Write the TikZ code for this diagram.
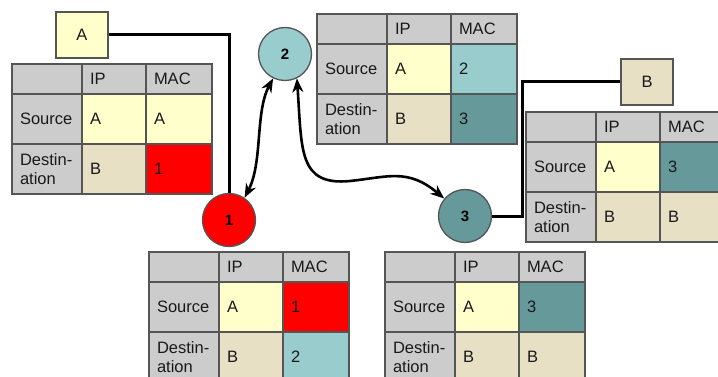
\documentclass[tikz,border=0pt]{standalone}
\usepackage{fontspec}
\setmainfont{Liberation Sans}
\usetikzlibrary{arrows.meta,positioning}

\definecolor{ipyellow}{HTML}{FFFFCC}
\definecolor{iptan}{HTML}{E8E0C4}
\definecolor{hdgray}{HTML}{CCCCCC}
\definecolor{macred}{HTML}{FF0000}
\definecolor{maclight}{HTML}{99CCCC}
\definecolor{macdark}{HTML}{669999}
\definecolor{tabline}{HTML}{555555}

% one ARP table: name, corner, src MAC, its fill, dst MAC, its fill
\newcommand{\arptable}[6]{%
  \node[cell,fill=hdgray,text width=54pt,minimum height=30pt] (#1c) at (#2) {};
  \node[cell,fill=hdgray,text width=48pt,minimum height=30pt,right=0pt of #1c] (#1ip) {IP};
  \node[cell,fill=hdgray,text width=50pt,minimum height=30pt,right=0pt of #1ip] (#1mac) {MAC};
  \node[cell,fill=hdgray,text width=54pt,minimum height=50pt,below=0pt of #1c] (#1src) {Source};
  \node[cell,fill=ipyellow,text width=48pt,minimum height=50pt,right=0pt of #1src] (#1sip) {A};
  \node[cell,fill=#4,text width=50pt,minimum height=50pt,right=0pt of #1sip] (#1smac) {#3};
  \node[cell,fill=hdgray,text width=54pt,minimum height=50pt,below=0pt of #1src] (#1dst) {Destin-\\ation};
  \node[cell,fill=iptan,text width=48pt,minimum height=50pt,right=0pt of #1dst] (#1dip) {B};
  \node[cell,fill=#6,text width=50pt,minimum height=50pt,right=0pt of #1dip] (#1dmac) {#5};
}

\begin{document}
\begin{tikzpicture}[x=1pt,y=-1pt,
  cell/.style={draw=tabline,line width=1.6pt,anchor=north west,outer sep=0pt,
    inner xsep=8pt,inner ysep=0pt,align=left,text=black!90,
    font=\fontsize{16.5}{19}\selectfont},
  host/.style={draw=tabline,line width=1.4pt,minimum width=52pt,minimum height=46pt,
    text=black!90,font=\fontsize{16.5}{19}\selectfont},
  router/.style={circle,draw=tabline,line width=1.3pt,minimum size=53pt,inner sep=0pt,
    font=\bfseries\fontsize{15}{15}\selectfont},
  wire/.style={line width=3pt,black},
  hop/.style={line width=2.6pt,black,{Stealth[length=14pt,width=11pt]}-{Stealth[length=14pt,width=11pt]}}]

\useasboundingbox (0,0) rectangle (718,377);
\clip (0,0) rectangle (718,377);

% hosts and routers
\node[host,fill=ipyellow] (hA) at (82,35) {A};
\node[host,fill=iptan] (hB) at (647,82) {B};
\node[router,fill=macred] (r1) at (229,220) {1};
\node[router,fill=maclight] (r2) at (285,54) {2};
\node[router,fill=macdark] (r3) at (465,216) {3};

% tables
\arptable{ta}{12,64}{A}{ipyellow}{1}{macred}
\arptable{tb}{317,14}{2}{maclight}{3}{macdark}
\arptable{tc}{526,112}{3}{macdark}{B}{iptan}
\arptable{td}{149,252}{1}{macred}{2}{maclight}
\arptable{te}{385,252}{3}{macdark}{B}{iptan}

% links
\draw[wire] (hA.east) -| (r1.north);
\coordinate (bend) at (522,0);
\draw[wire] (hB.west) -| (bend |- r3.east) -- (r3.east);

\draw[hop] (r2.-116) .. controls (255,112) and (263,162) .. (r1.55);
\draw[hop] (r2.-64) .. controls (302,150) and (298,186) .. (350,181)
  .. controls (388,177) and (408,168) .. (r3.140);
\end{tikzpicture}
\end{document}
